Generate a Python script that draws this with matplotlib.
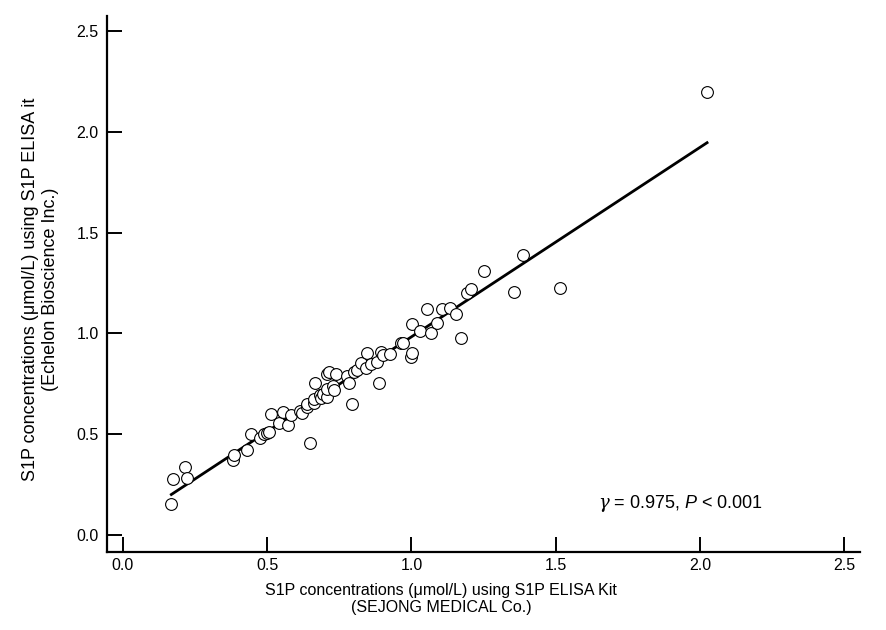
import numpy as np
import matplotlib.pyplot as plt

plt.rcParams['font.family'] = ['Liberation Sans', 'DejaVu Sans']
plt.rcParams['mathtext.fontset'] = 'custom'
plt.rcParams['mathtext.rm'] = 'Liberation Sans'
plt.rcParams['mathtext.it'] = 'Liberation Sans:italic'
plt.rcParams['mathtext.sf'] = 'DejaVu Serif:italic'

# S1P ELISA kit (SEJONG) vs Echelon kit, umol/L
sejong = [0.168, 0.175, 0.215, 0.221, 0.383, 0.385, 0.431, 0.443, 0.474, 0.490,
          0.500, 0.508, 0.514, 0.541, 0.556, 0.573, 0.584, 0.615, 0.622, 0.639,
          0.639, 0.647, 0.662, 0.662, 0.665, 0.682, 0.685, 0.695, 0.708, 0.708,
          0.708, 0.714, 0.729, 0.731, 0.739, 0.777, 0.783, 0.795, 0.800, 0.810,
          0.824, 0.841, 0.847, 0.860, 0.881, 0.887, 0.893, 0.900, 0.927, 0.964,
          0.970, 0.997, 1.001, 1.003, 1.029, 1.054, 1.069, 1.089, 1.106, 1.135,
          1.153, 1.170, 1.193, 1.207, 1.250, 1.356, 1.386, 1.513, 2.024]
echelon = [0.154, 0.279, 0.337, 0.284, 0.372, 0.397, 0.420, 0.502, 0.480, 0.500,
           0.507, 0.512, 0.602, 0.557, 0.610, 0.547, 0.597, 0.614, 0.607, 0.637,
           0.648, 0.456, 0.653, 0.675, 0.752, 0.696, 0.678, 0.700, 0.686, 0.723,
           0.799, 0.809, 0.739, 0.719, 0.799, 0.789, 0.756, 0.648, 0.810, 0.820,
           0.852, 0.827, 0.901, 0.850, 0.860, 0.752, 0.909, 0.893, 0.896, 0.951,
           0.950, 0.884, 0.901, 1.047, 1.012, 1.120, 1.000, 1.050, 1.120, 1.124,
           1.098, 0.978, 1.202, 1.219, 1.310, 1.207, 1.387, 1.225, 2.197]

x = np.array(sejong)
y = np.array(echelon)

# least squares line over the data range
slope, intercept = np.polyfit(x, y, 1)
xl = np.array([x.min(), x.max()])

fig = plt.figure(figsize=(8.87, 6.3), dpi=100)
ax = fig.add_axes([0.1206, 0.1238, 0.849, 0.8508])

ax.scatter(x, y, s=72, facecolors='white', edgecolors='black', linewidths=0.8, zorder=3)
ax.plot(xl, slope * xl + intercept, color='black', lw=2.0, zorder=2)

ax.set_xlim(-0.055, 2.554)
ax.set_ylim(-0.084, 2.574)
ax.set_xticks([0.0, 0.5, 1.0, 1.5, 2.0, 2.5])
ax.set_yticks([0.0, 0.5, 1.0, 1.5, 2.0, 2.5])
ax.xaxis.set_major_formatter(plt.FormatStrFormatter('%.1f'))
ax.yaxis.set_major_formatter(plt.FormatStrFormatter('%.1f'))

for s in ['top', 'right']:
    ax.spines[s].set_visible(False)
for s in ['left', 'bottom']:
    ax.spines[s].set_linewidth(1.6)
ax.tick_params(direction='in', length=11, width=1.4, labelsize=11.5, pad=6)
ax.tick_params(axis='x', pad=4)

ax.set_xlabel('S1P concentrations (\u03bcmol/L) using S1P ELISA Kit\n(SEJONG MEDICAL Co.)',
              fontsize=11.5)
ax.xaxis.set_label_coords(0.444, -0.058, transform=ax.transAxes)
ax.xaxis.label.set_va('top')
ax.set_ylabel('S1P concentrations (\u03bcmol/L) using S1P ELISA it\n(Echelon Bioscience Inc.)',
              fontsize=13)
ax.yaxis.set_label_coords(-0.064, 0.49)

ax.text(1.645, 0.159, r'$\mathsf{\gamma}$ = 0.975, $\mathit{P}$ < 0.001', fontsize=13,
        ha='left', va='center')

plt.savefig('out.png', dpi=100)
